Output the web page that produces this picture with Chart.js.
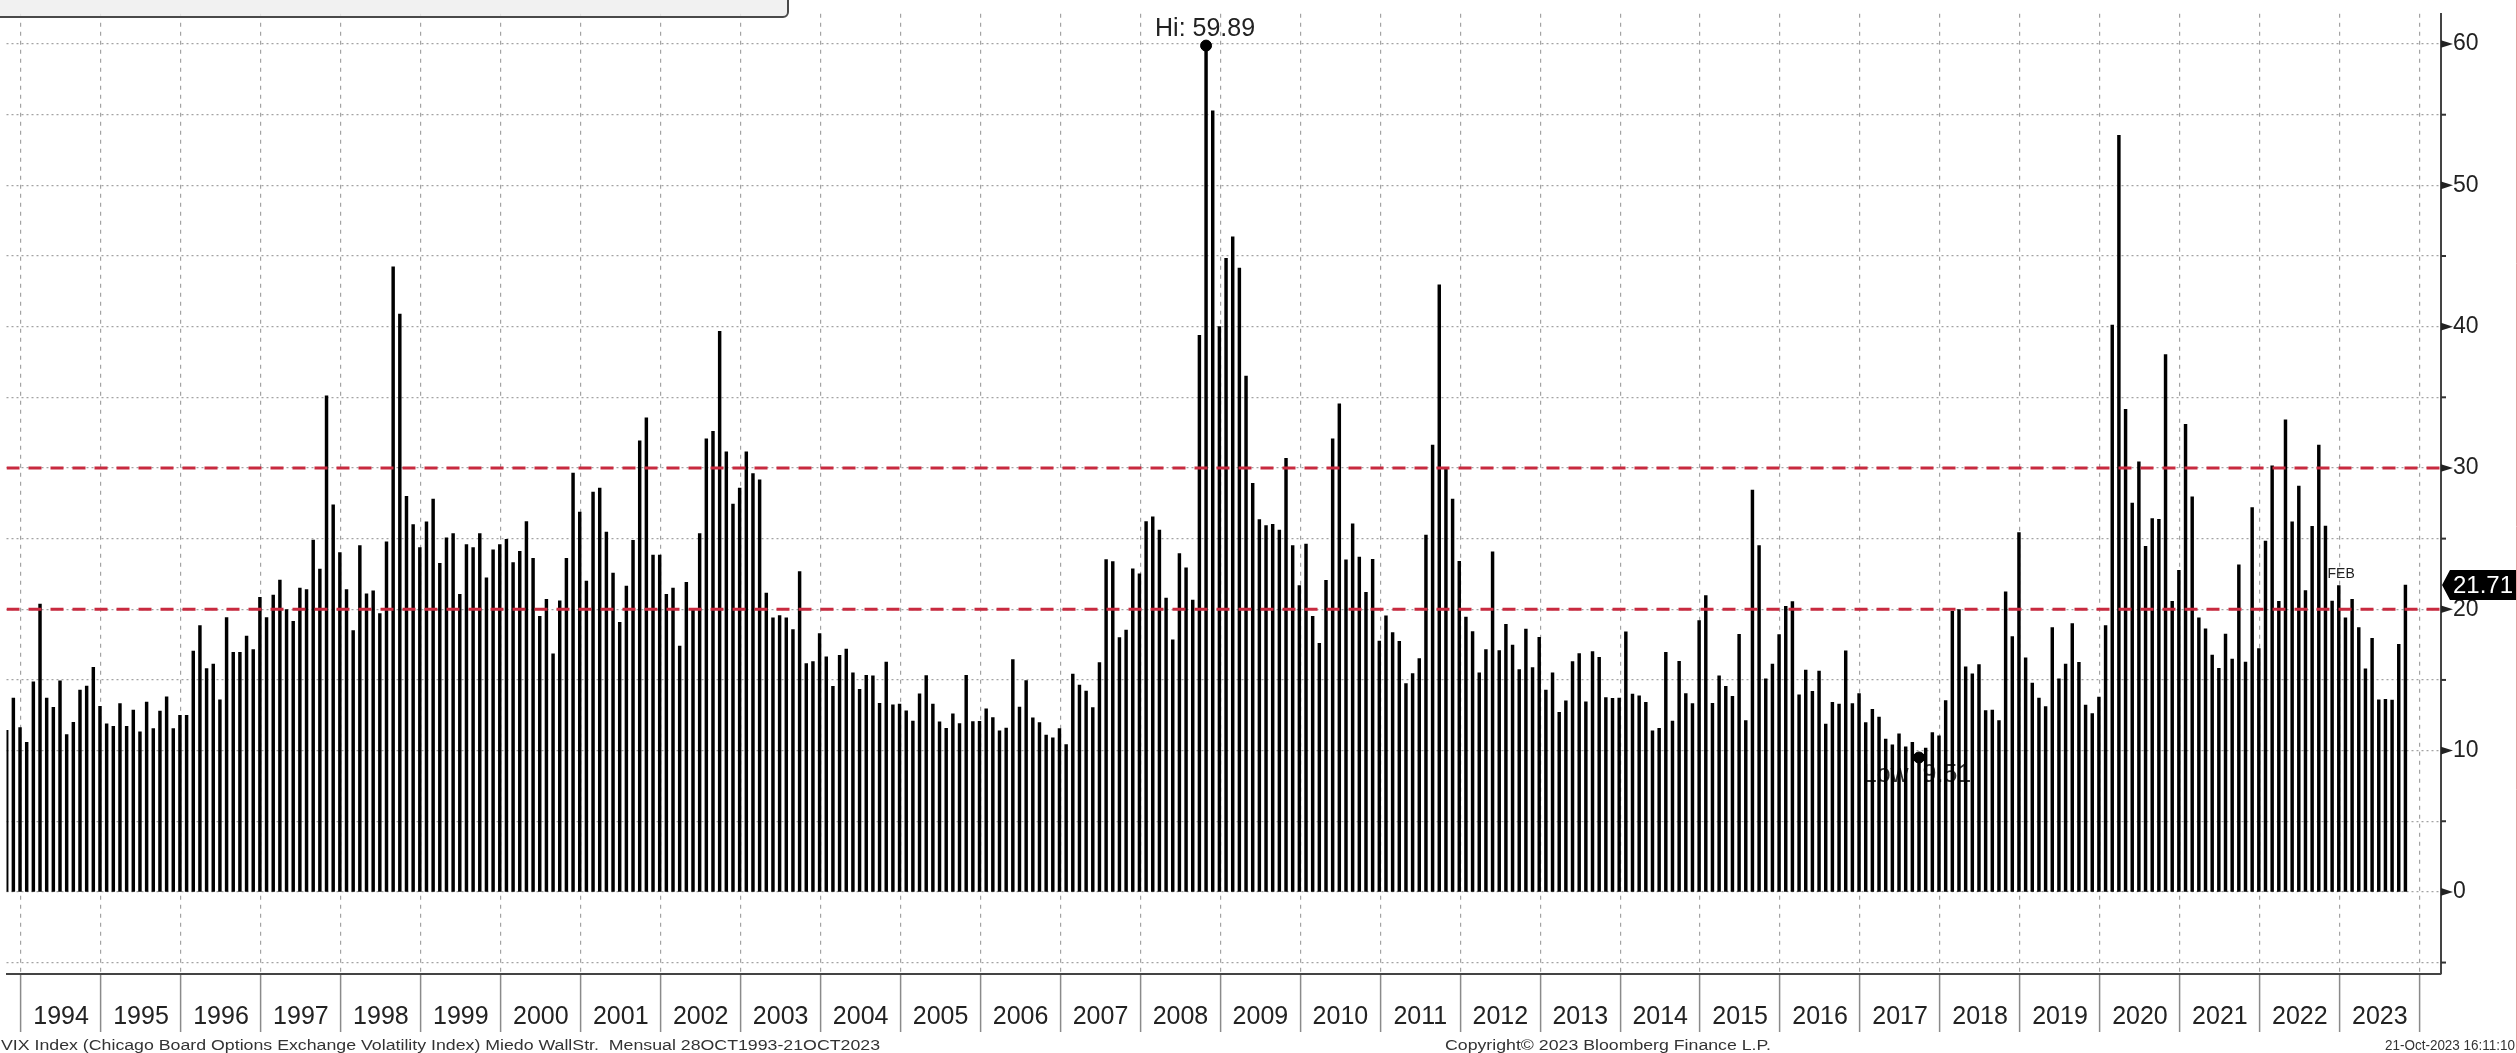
<!DOCTYPE html>
<html><head><meta charset="utf-8">
<script src="https://cdn.jsdelivr.net/npm/chart.js@4.4.0/dist/chart.umd.min.js"></script>
<style>html,body{margin:0;padding:0;background:#fff;overflow:hidden}canvas{display:block}</style>
</head><body>
<canvas id="c" width="2517" height="1053"></canvas>
<script>
// ---------- DATA ----------
const startYear = 1993, startMonth = 10; // first bar: Oct 1993 (monthly closes)
const vixMonthly = [
  11.44, 13.72, 11.63,
  10.58, 14.86, 20.37, 13.72, 13.07, 14.93, 11.14, 12.00, 14.28, 14.56, 15.90, 13.14,
  11.90, 11.72, 13.33, 11.72, 12.86, 11.33, 13.44, 11.56, 12.79, 13.81, 11.56, 12.49,
  12.49, 17.05, 18.84, 15.81, 16.12, 13.60, 19.42, 16.95, 16.95, 18.10, 17.14, 20.84,
  19.42, 21.00, 22.07, 19.98, 19.14, 21.50, 21.40, 24.90, 22.84, 35.10, 27.40, 24.01,
  21.40, 18.50, 24.50, 21.10, 21.30, 19.70, 24.77, 44.23, 40.89, 27.99, 26.00, 24.37,
  26.19, 27.80, 23.25, 25.05, 25.35, 21.05, 24.58, 24.37, 25.35, 22.22, 24.20, 24.58,
  24.95, 23.30, 24.10, 26.20, 23.60, 19.50, 20.70, 16.84, 20.60, 23.60, 29.63, 26.87,
  21.99, 28.29, 28.57, 25.47, 22.57, 19.07, 21.64, 24.88, 31.92, 33.55, 23.83, 23.83,
  21.05, 21.50, 17.40, 21.90, 20.00, 25.35, 32.06, 32.60, 39.67, 31.14, 27.45, 28.57,
  31.14, 29.60, 29.16, 21.14, 19.40, 19.56, 19.40, 18.57, 22.66, 16.16, 16.30, 18.28,
  16.63, 14.55, 16.74, 17.19, 15.50, 14.34, 15.32, 15.29, 13.34, 16.27, 13.24, 13.29,
  12.82, 12.08, 14.02, 15.31, 13.29, 12.04, 11.57, 12.60, 11.92, 15.32, 12.06, 12.07,
  12.95, 12.34, 11.39, 11.59, 16.44, 13.08, 14.95, 12.31, 11.98, 11.10, 10.91, 11.56,
  10.42, 15.42, 14.64, 14.22, 13.05, 16.23, 23.52, 23.38, 18.00, 18.53, 22.87, 22.50,
  26.20, 26.54, 25.61, 20.79, 17.83, 23.95, 22.94, 20.65, 39.39, 59.89, 55.28, 40.00,
  44.84, 46.35, 44.14, 36.50, 28.92, 26.35, 25.92, 26.01, 25.61, 30.69, 24.51, 21.68,
  24.62, 19.50, 17.59, 22.05, 32.07, 34.54, 23.50, 26.05, 23.70, 21.20, 23.54, 17.75,
  19.53, 18.35, 17.74, 14.75, 15.45, 16.52, 25.25, 31.62, 42.96, 29.96, 27.80, 23.40,
  19.44, 18.43, 15.50, 17.15, 24.06, 17.08, 18.93, 17.47, 15.73, 18.60, 15.87, 18.02,
  14.28, 15.51, 12.70, 13.52, 16.30, 16.86, 13.45, 17.01, 16.60, 13.75, 13.70, 13.72,
  18.41, 14.00, 13.88, 13.41, 11.40, 11.57, 16.95, 12.09, 16.31, 14.03, 13.33, 19.20,
  20.97, 13.34, 15.29, 14.55, 13.84, 18.23, 12.12, 28.43, 24.50, 15.07, 16.13, 18.21,
  20.20, 20.55, 13.95, 15.70, 14.19, 15.63, 11.87, 13.42, 13.29, 17.06, 13.33, 14.04,
  11.99, 12.92, 12.37, 10.82, 10.41, 11.18, 10.26, 10.59, 9.51, 10.18, 11.28, 11.04,
  13.54, 19.85, 19.97, 15.93, 15.43, 16.09, 12.83, 12.86, 12.12, 21.23, 18.07, 25.42,
  16.57, 14.78, 13.71, 13.12, 18.71, 15.08, 16.12, 18.98, 16.24, 13.22, 12.62, 13.78,
  18.84, 40.11, 53.54, 34.15, 27.51, 30.43, 24.46, 26.41, 26.37, 38.02, 20.57, 22.75,
  33.09, 27.95, 19.40, 18.61, 16.76, 15.83, 18.24, 16.48, 23.14, 16.26, 27.19, 17.22,
  24.83, 30.15, 20.56, 33.40, 26.19, 28.71, 21.33, 25.87, 31.62, 25.88, 20.58, 21.67,
  19.40, 20.70, 18.70, 15.78, 17.94, 13.59, 13.63, 13.57, 17.52, 21.71
];
const yearLabels = ['1994','1995','1996','1997','1998','1999','2000','2001','2002','2003',
  '2004','2005','2006','2007','2008','2009','2010','2011','2012','2013',
  '2014','2015','2016','2017','2018','2019','2020','2021','2022','2023'];
const yTickValues = [-5, 0, 5, 10, 15, 20, 25, 30, 35, 40, 45, 50, 55, 60];
const yLabelValues = [0, 10, 20, 30, 40, 50, 60];
const thresholds = [20, 30];
const extremeLabels = ['Hi: 59.89', 'Low: 9.51'];
const extremeDates = [[2008, 10], [2017, 9]];
const extremeValues = [59.89, 9.51];
const lastValueLabel = '21.71';
const eventText = 'FEB';
const eventDate = [2023, 2];
const footerLeft = 'VIX Index (Chicago Board Options Exchange Volatility Index) Miedo WallStr.  Mensual 28OCT1993-21OCT2023';
const footerCenter = 'Copyright\u00A9 2023 Bloomberg Finance L.P.';
const footerRight = '21-Oct-2023 16:11:10';

// ---------- helpers ----------
const monthIndex = (y, m) => (y - startYear) * 12 + (m - startMonth);
const barData = vixMonthly.map((v, i) => ({x: i, y: v}));
const yearLines = yearLabels.map(y => monthIndex(+y, 1) - 0.86).concat([monthIndex(2024, 1) - 0.86]);
const xMin = -0.03, xMax = 365.34;
const extremePoints = extremeDates.map((d, i) => ({x: monthIndex(d[0], d[1]), y: extremeValues[i]}));

const FONT = '"Liberation Sans", Arial, sans-serif';

const overlay = {
  id: 'overlay',
  beforeDatasetsDraw(chart) {
    const {ctx, scales: {x, y}} = chart;
    const p = extremePoints[1];
    ctx.save();
    ctx.font = '25px ' + FONT;
    ctx.fillStyle = '#333';
    ctx.textAlign = 'center';
    ctx.textBaseline = 'middle';
    ctx.fillText(extremeLabels[1], x.getPixelForValue(p.x) - 2, y.getPixelForValue(p.y) + 18);
    ctx.restore();
  },
  afterDatasetsDraw(chart) {
    const {ctx, scales: {x, y}} = chart;
    const p = extremePoints[0];
    ctx.save();
    ctx.font = '25px ' + FONT;
    ctx.fillStyle = '#222';
    ctx.textAlign = 'center';
    ctx.textBaseline = 'middle';
    ctx.fillText(extremeLabels[0], x.getPixelForValue(p.x) - 1, y.getPixelForValue(p.y) - 16);
    const ei = monthIndex(eventDate[0], eventDate[1]);
    ctx.font = '14px ' + FONT;
    ctx.fillStyle = '#222';
    ctx.fillText(eventText, x.getPixelForValue(ei) - 11, y.getPixelForValue(vixMonthly[ei]) - 25);
    ctx.restore();
  },
  afterDraw(chart) {
    const {ctx, chartArea: a, scales: {x, y}} = chart;
    ctx.save();
    ctx.fillStyle = '#222';
    ctx.strokeStyle = '#333';
    ctx.lineWidth = 2;
    yTickValues.forEach(v => {
      const py = y.getPixelForValue(v);
      if (yLabelValues.includes(v)) {
        ctx.beginPath();
        ctx.moveTo(a.right, py - 3.8);
        ctx.lineTo(a.right + 12, py);
        ctx.lineTo(a.right, py + 3.8);
        ctx.closePath();
        ctx.fill();
      } else {
        ctx.beginPath();
        ctx.moveTo(a.right, py);
        ctx.lineTo(a.right + 5, py);
        ctx.stroke();
      }
    });
    const ly = y.getPixelForValue(vixMonthly[vixMonthly.length - 1]);
    ctx.fillStyle = '#000';
    ctx.beginPath();
    ctx.moveTo(a.right + 1, ly);
    ctx.lineTo(a.right + 9, ly - 15);
    ctx.lineTo(2517, ly - 15);
    ctx.lineTo(2517, ly + 15);
    ctx.lineTo(a.right + 9, ly + 15);
    ctx.closePath();
    ctx.fill();
    ctx.fillStyle = '#fff';
    ctx.font = '24px ' + FONT;
    ctx.textAlign = 'left';
    ctx.textBaseline = 'middle';
    ctx.fillText(lastValueLabel, a.right + 12, ly + 1);
    ctx.fillStyle = 'rgba(238,238,238,0.85)';
    ctx.strokeStyle = '#4a4a4a';
    ctx.lineWidth = 2;
    ctx.beginPath();
    ctx.roundRect(-6, -20, 794, 37, 5);
    ctx.fill();
    ctx.stroke();
    const fitText = (t, x0, x1, base) => {
      ctx.save();
      ctx.font = '14px ' + FONT;
      const w = ctx.measureText(t).width;
      ctx.translate(x0, base);
      ctx.scale((x1 - x0) / w, 1);
      ctx.textAlign = 'left';
      ctx.textBaseline = 'alphabetic';
      ctx.fillStyle = '#333';
      ctx.fillText(t, 0, 0);
      ctx.restore();
    };
    fitText(footerLeft, 1, 880, 1050);
    fitText(footerCenter, 1445, 1771, 1050);
    fitText(footerRight, 2385, 2515, 1050);
    ctx.strokeStyle = '#e6a0a0';
    ctx.lineWidth = 1;
    ctx.beginPath();
    ctx.moveTo(2516.5, 0);
    ctx.lineTo(2516.5, 1053);
    ctx.stroke();
    ctx.restore();
  }
};

new Chart(document.getElementById('c').getContext('2d'), {
  type: 'bar',
  data: {
    datasets: [
      {type: 'line', data: extremePoints, showLine: false, pointRadius: 5.5, pointHoverRadius: 5.5,
       pointBackgroundColor: '#000', pointBorderColor: '#000', order: -1},
      ...thresholds.map(t => ({
        type: 'line', data: [{x: xMin, y: t}, {x: xMax, y: t}], borderColor: '#c82a3f',
        borderWidth: 3, borderDash: [13, 9], pointRadius: 0, fill: false, order: 0
      })),
      {type: 'bar', data: barData, backgroundColor: '#000', barThickness: 2.8, order: 2}
    ]
  },
  options: {
    responsive: false, animation: false, devicePixelRatio: 1,
    layout: {padding: 0},
    plugins: {legend: {display: false}, tooltip: {enabled: false}},
    scales: {
      x: {
        type: 'linear', position: 'bottom', min: xMin, max: xMax, offset: false,
        afterBuildTicks: s => { s.ticks = yearLines.map(v => ({value: v})); },
        afterFit: s => { s.height = 79; },
        grid: {offset: false, color: '#a3a3a3', lineWidth: 1.2, drawTicks: true, tickLength: 58,
               tickColor: '#8a8a8a', tickWidth: 1.5, tickBorderDash: []},
        border: {display: true, color: '#444', width: 2, dash: [4, 5]},
        ticks: {autoSkip: false, maxRotation: 0, minRotation: 0, padding: -30, labelOffset: 40.1,
                color: '#222', font: {family: FONT, size: 25},
                callback: (v, i) => yearLabels[i] || ''}
      },
      y: {
        type: 'linear', position: 'right', min: -5.81, max: 62.14,
        afterBuildTicks: s => { s.ticks = yTickValues.map(v => ({value: v})); },
        afterFit: s => { s.width = 76; },
        grid: {color: '#a3a3a3', lineWidth: 1.2, drawTicks: true, tickLength: 12, tickColor: 'rgba(0,0,0,0)'},
        border: {display: true, color: '#444', width: 2, dash: [2, 3]},
        ticks: {padding: 0, color: '#222', font: {family: FONT, size: 23},
                callback: v => (yLabelValues.includes(v) ? String(v) : '')}
      }
    }
  },
  plugins: [overlay]
});
</script>
</body></html>
